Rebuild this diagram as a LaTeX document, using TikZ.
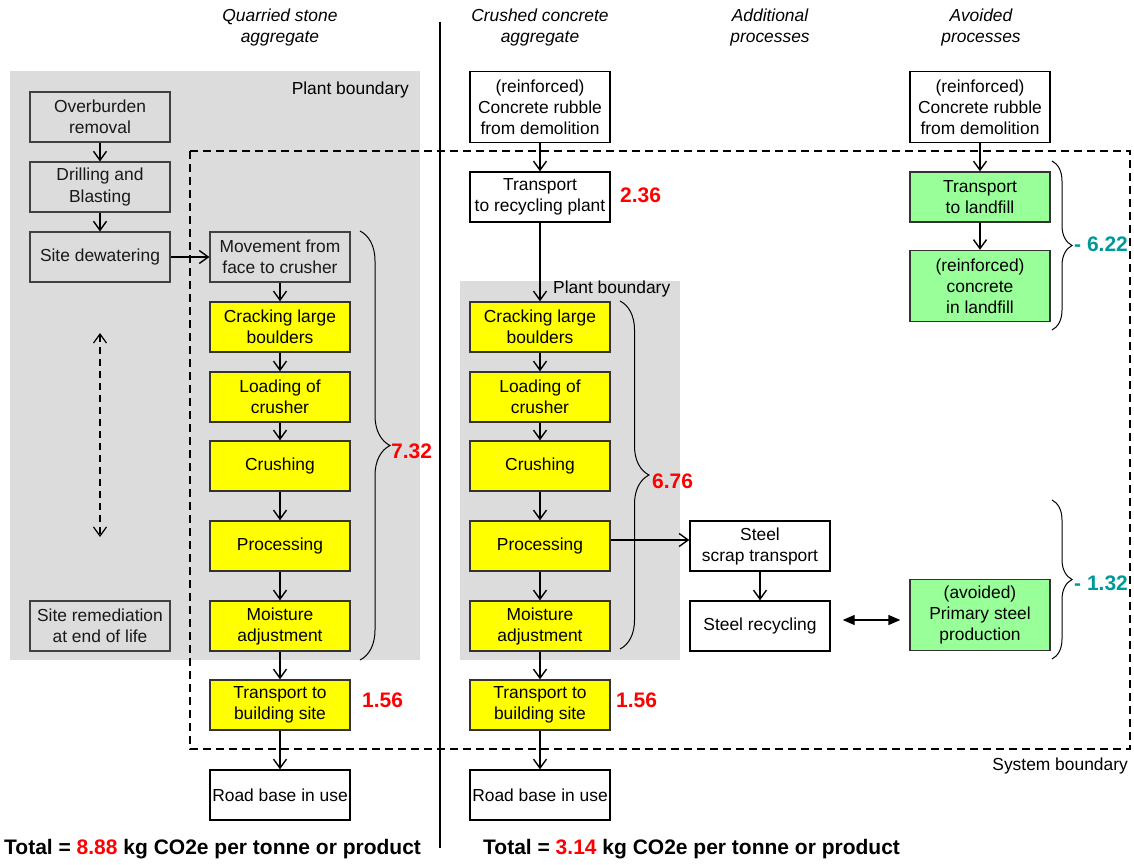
\documentclass[tikz,border=0pt]{standalone}
\usepackage{fontspec}
\setmainfont{Liberation Sans}
\usetikzlibrary{arrows.meta,decorations.pathreplacing}
\definecolor{plantgray}{HTML}{DCDCDC}
\definecolor{procyellow}{HTML}{FFFF00}
\definecolor{avoidgreen}{HTML}{99FF99}
\definecolor{valred}{HTML}{FF0000}
\definecolor{valteal}{HTML}{009999}
\newcommand\boxfont{\fontsize{17.4}{21}\selectfont}
\newcommand\valfont{\fontsize{21}{25}\selectfont\bfseries}
\begin{document}
\begin{tikzpicture}[x=1pt,y=-1pt,
  proc/.style={draw=black, line width=1.4pt, fill=white, minimum width=140pt,
    minimum height=50pt, inner sep=0pt, align=center, font=\boxfont},
  tall/.style={minimum height=71pt},
  yel/.style={proc, fill=procyellow, draw=black!80},
  grn/.style={proc, fill=avoidgreen, draw=black!80},
  gry/.style={proc, fill=plantgray, draw=black!75, line width=1.1pt, text=black!90},
  flow/.style={-{Straight Barb[length=9pt,width=13pt]}, line width=1.4pt},
  twoway/.style={{Triangle[length=12pt,width=10pt]}-{Triangle[length=12pt,width=10pt]}, line width=1.4pt},
  loose/.style={{Straight Barb[length=9pt,width=13pt]}-{Straight Barb[length=9pt,width=13pt]},
    line width=1.2pt, dash pattern=on 7pt off 5pt},
  sysline/.style={line width=1.6pt, dash pattern=on 8pt off 5pt},
  plant/.style={fill=plantgray, draw=none},
  brc/.style={line width=1pt, decorate, decoration={brace, amplitude=#1}},
  val/.style={inner sep=0pt, font=\valfont},
  head/.style={inner sep=0pt, align=center, font=\boxfont\itshape},
  note/.style={inner sep=0pt, font=\boxfont},
]
\useasboundingbox (0,0) rectangle (1134,864);

% plant areas and system boundary
\fill[plant] (10,71) rectangle (420,660);
\fill[plant] (460,281) rectangle (680,660);
\draw[sysline] (190,151) rectangle (1130,749);
\draw[line width=2.8pt] (440,22) -- (440,848);

% column headings
\node[head] (h1) at (280,28) {Quarried stone\\aggregate};
\node[head] (h2) at (540,28) {Crushed concrete\\aggregate};
\node[head] (h3) at (770,28) {Additional\\processes};
\node[head] (h4) at (981,28) {Avoided\\processes};

\node[note, anchor=east] (pb1) at (409,90) {Plant boundary};
\node[note, anchor=west] (pb2) at (553,289) {Plant boundary};
\node[note, anchor=east] (sb) at (1128,766) {System boundary};

% quarry site activities
\node[gry] (ob) at (100,117) {Overburden\\removal};
\node[gry] (db) at (100,187) {Drilling and\\Blasting};
\node[gry] (dw) at (100,257) {Site dewatering};
\node[gry] (rm) at (100,626) {Site remediation\\at end of life};
\coordinate (lifeA) at (100,333);
\coordinate (lifeB) at (100,537);

% quarried stone chain
\node[gry] (mv) at (280,257) {Movement from\\face to crusher};
\node[yel] (qc) at (280,327) {Cracking large\\boulders};
\node[yel] (ql) at (280,397) {Loading of\\crusher};
\node[yel] (qr) at (280,466) {Crushing};
\node[yel] (qp) at (280,546) {Processing};
\node[yel] (qm) at (280,626) {Moisture\\adjustment};
\node[yel] (qt) at (280,705) {Transport to\\building site};
\node[proc] (qu) at (280,795) {Road base in use};

% crushed concrete chain
\node[proc, tall] (cd) at (540,107) {(reinforced)\\Concrete rubble\\from demolition};
\node[proc] (ct) at (540,197) {Transport\\to recycling plant};
\node[yel] (cc) at (540,327) {Cracking large\\boulders};
\node[yel] (cl) at (540,397) {Loading of\\crusher};
\node[yel] (cr) at (540,466) {Crushing};
\node[yel] (cp) at (540,546) {Processing};
\node[yel] (cm) at (540,626) {Moisture\\adjustment};
\node[yel] (cb) at (540,705) {Transport to\\building site};
\node[proc] (cu) at (540,795) {Road base in use};

% additional processes
\node[proc] (ss) at (760,546) {Steel\\scrap transport};
\node[proc] (sr) at (760,626) {Steel recycling};

% avoided processes
\node[proc, tall] (ad) at (980,107) {(reinforced)\\Concrete rubble\\from demolition};
\node[grn] (at) at (980,197) {Transport\\to landfill};
\node[grn, tall] (al) at (980,286) {(reinforced)\\concrete\\in landfill};
\node[grn, tall] (ap) at (980,615) {(avoided)\\Primary steel\\production};

% flows
\draw[flow] (ob) -- (db);
\draw[flow] (db) -- (dw);
\draw[flow] (dw) -- (mv);
\draw[loose] (lifeA) -- (lifeB);
\draw[flow] (mv) -- (qc);
\draw[flow] (qc) -- (ql);
\draw[flow] (ql) -- (qr);
\draw[flow] (qr) -- (qp);
\draw[flow] (qp) -- (qm);
\draw[flow] (qm) -- (qt);
\draw[flow] (qt) -- (qu);

\draw[flow] (cd) -- (ct);
\draw[flow] (ct) -- (cc);
\draw[flow] (cc) -- (cl);
\draw[flow] (cl) -- (cr);
\draw[flow] (cr) -- (cp);
\draw[flow] (cp) -- (cm);
\draw[flow] (cm) -- (cb);
\draw[flow] (cb) -- (cu);
\draw[flow] ([yshift=6pt]cp.east) -- ([yshift=6pt]ss.west);
\draw[flow] (ss) -- (sr);
\draw[twoway] ([xshift=12pt,yshift=6pt]sr.east) -- ([xshift=-9pt,yshift=6pt]ap.west |- sr.east);

\draw[flow] (ad) -- (at);
\draw[flow] (at) -- (al);

% braces and values
\draw[brc=30pt] (360,231) -- (360,660);
\draw[brc=29pt] (620,301) -- (620,649);
\draw[brc=20pt] (1052,161) -- (1052,330);
\draw[brc=20pt] (1052,500) -- (1052,659);

\node[val, text=valred, anchor=west] (v1) at (391,451) {7.32};
\node[val, text=valred, anchor=west] (v2) at (652,481) {6.76};
\node[val, text=valred, anchor=west] (v3) at (620,195) {2.36};
\node[val, text=valred, anchor=west] (v4) at (362,700) {1.56};
\node[val, text=valred, anchor=west] (v5) at (616,700) {1.56};
\node[val, text=valteal, anchor=west] (v6) at (1074,244) {- 6.22};
\node[val, text=valteal, anchor=west] (v7) at (1074,583) {- 1.32};

% totals
\node[val, anchor=west] (tot1) at (4,849) {Total = \textcolor{valred}{8.88} kg CO2e per tonne or product};
\node[val, anchor=west] (tot2) at (483,849) {Total = \textcolor{valred}{3.14} kg CO2e per tonne or product};
\end{tikzpicture}
\end{document}
